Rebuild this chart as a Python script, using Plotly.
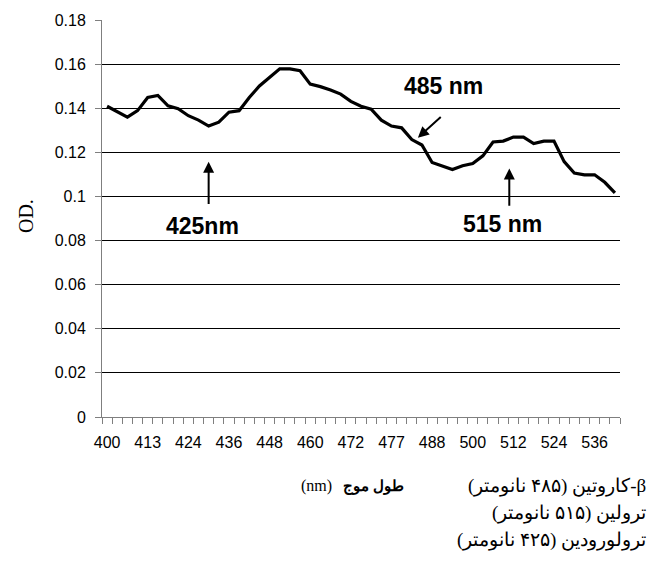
import plotly.graph_objects as go

# Absorbance spectrum (OD) sampled at 51 wavelength steps
od = [0.1409, 0.1386, 0.1360, 0.1389, 0.1449, 0.1458, 0.1411, 0.1398, 0.1366, 0.1346,
      0.1319, 0.1337, 0.1382, 0.1389, 0.1449, 0.1501, 0.1539, 0.1579, 0.1578, 0.1570,
      0.1509, 0.1498, 0.1483, 0.1464, 0.1431, 0.1409, 0.1396, 0.1346, 0.1319, 0.1311,
      0.1258, 0.1233, 0.1154, 0.1139, 0.1122, 0.1139, 0.1149, 0.1184, 0.1247, 0.1251,
      0.1269, 0.1269, 0.1240, 0.1251, 0.1251, 0.1158, 0.1106, 0.1098, 0.1098, 0.1064,
      0.1016]

# Wavelength labels shown on every fourth category
tick_labels = ["400", "413", "424", "436", "448", "460", "472",
               "477", "488", "500", "512", "524", "536"]
label_step = 4

y_ticks = [0, 0.02, 0.04, 0.06, 0.08, 0.1, 0.12, 0.14, 0.16, 0.18]
y_tick_text = ["0", "0.02", "0.04", "0.06", "0.08", "0.1", "0.12", "0.14", "0.16", "0.18"]

# Pigments and their absorption wavelengths (Persian, right-to-left lines)
legend_lines = ["β-کاروتین (۴۸۵ نانومتر)",
                "ترولین (۵۱۵ نانومتر)",
                "ترولورودین (۴۲۵ نانومتر)"]
RLE, PDF = "\u202b", "\u202c"

n = len(od)
x_idx = list(range(n))

W, H = 653, 565
ML, MR, MT, MB = 102, 33, 16, 148
PW, PH = W - ML - MR, H - MT - MB

fig = go.Figure()
fig.add_trace(go.Scatter(
    x=x_idx, y=od, mode="lines",
    line=dict(color="black", width=3.2),
    hoverinfo="skip", showlegend=False,
))

tick_font = dict(family="Arial, Liberation Sans, sans-serif", size=16, color="black")

fig.update_layout(
    width=W, height=H,
    margin=dict(l=ML, r=MR, t=MT, b=MB),
    paper_bgcolor="white", plot_bgcolor="white",
    showlegend=False,
    xaxis=dict(
        range=[-0.5, n - 0.5],
        tickmode="array",
        tickvals=[i * label_step for i in range(len(tick_labels))],
        ticktext=tick_labels,
        ticks="", showgrid=False, zeroline=False,
        showline=True, linecolor="#7f7f7f", linewidth=1,
        tickfont=tick_font, ticklabelstandoff=11,
        minor=dict(tickmode="array",
                   tickvals=[i - 0.5 for i in range(n + 1)],
                   ticks="outside", ticklen=6, tickcolor="#7f7f7f",
                   tickwidth=1, showgrid=False),
    ),
    yaxis=dict(
        range=[0, 0.18],
        tickmode="array", tickvals=y_ticks, ticktext=y_tick_text,
        ticks="outside", ticklen=6, tickcolor="#7f7f7f", tickwidth=1,
        showgrid=False, zeroline=False,
        showline=True, linecolor="#7f7f7f", linewidth=1,
        tickfont=tick_font, ticklabelstandoff=6,
        minor=dict(tickmode="array", tickvals=y_ticks[1:-1],
                   ticks="", showgrid=True, gridcolor="black", gridwidth=1),
    ),
)

label_font = dict(family="Arial, Liberation Sans, sans-serif", size=23, color="black")

# Peak markers: arrows and wavelength labels
arrows = [
    dict(x=10.0, y=0.1157, ax=10.0, ay=0.0959),
    dict(x=39.6, y=0.1127, ax=39.6, ay=0.0951),
    dict(x=30.6, y=0.1266, ax=33.0, ay=0.1366),
]
for a in arrows:
    fig.add_annotation(x=a["x"], y=a["y"], ax=a["ax"], ay=a["ay"],
                       xref="x", yref="y", axref="x", ayref="y",
                       text="", showarrow=True, arrowhead=2, arrowsize=1.1,
                       arrowwidth=2, arrowcolor="black")

peak_labels = [
    dict(x=9.4, y=0.0865, text="<b>425nm</b>"),
    dict(x=38.9, y=0.0874, text="<b>515 nm</b>"),
    dict(x=33.1, y=0.1500, text="<b>485 nm</b>"),
]
for p in peak_labels:
    fig.add_annotation(x=p["x"], y=p["y"], xref="x", yref="y", text=p["text"],
                       showarrow=False, font=label_font,
                       xanchor="center", yanchor="middle")

serif = "Times New Roman, Liberation Serif, DejaVu Serif, serif"


def add_px_text(xp, yp, text, size, anchor, bold=False, angle=0):
    """Place a text at page pixel position (xp, yp) measured from the top-left."""
    fig.add_annotation(x=(xp - ML) / PW, y=(H - MB - yp) / PH,
                       xref="paper", yref="paper",
                       text=f"<b>{text}</b>" if bold else text,
                       showarrow=False, xanchor=anchor, yanchor="middle",
                       textangle=angle,
                       font=dict(family=serif, size=size, color="black"))


# Y axis title
add_px_text(26, 214, "OD.", 20, "center", angle=-90)

# X axis title: Persian word for wavelength with the unit on its left
add_px_text(334, 487, "(nm)", 16, "right")
add_px_text(341, 487, "طول موج", 15, "left", bold=True)

for k, line in enumerate(legend_lines):
    add_px_text(648, 487 + 27 * k, RLE + line + PDF, 19, "right")

fig.write_html("out.html")
